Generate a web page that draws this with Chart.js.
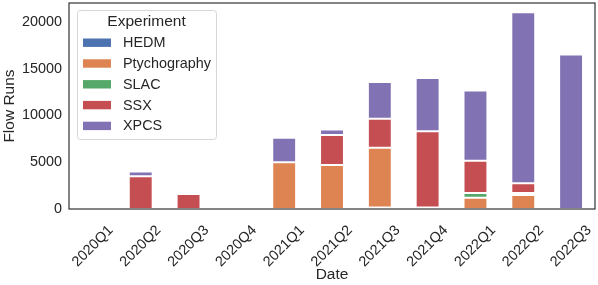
<!DOCTYPE html>
<html>
<head>
<meta charset="utf-8">
<script src="https://cdn.jsdelivr.net/npm/chart.js@4"></script>
<style>
  html, body { margin: 0; padding: 0; background: #fff; }
  #wrap { width: 598px; height: 285px; }
</style>
</head>
<body>
<div id="wrap"><canvas id="flow-chart" width="598" height="285"></canvas></div>
<script>
var quarters = ['2020Q1', '2020Q2', '2020Q3', '2020Q4', '2021Q1', '2021Q2', '2021Q3', '2021Q4', '2022Q1', '2022Q2', '2022Q3'];
var hedmRuns = [0, 0, 0, 0, 0, 0, 150, 150, 0, 0, 0];
var ptychoRuns = [0, 0, 0, 0, 5000, 4700, 6400, 0, 1200, 1500, 0];
var slacRuns = [0, 0, 0, 0, 0, 0, 0, 0, 500, 200, 0];
var ssxRuns = [0, 3500, 1600, 0, 0, 3200, 3100, 8150, 3450, 1050, 0];
var xpcsRuns = [0, 500, 200, 0, 2600, 600, 3900, 5700, 7500, 18250, 16500];
var yTicks = [0, 5000, 10000, 15000, 20000];

var textColor = '#262626';
var fontFamily = '"Liberation Sans", Arial, sans-serif';

function series(label, data, color) {
    return {
        label: label,
        data: data,
        backgroundColor: color,
        borderColor: 'rgba(255,255,255,0.7)',
        borderWidth: 1,
        borderSkipped: false,
        categoryPercentage: 1.0,
        barPercentage: 0.5
    };
}

// legend box inside the plot, top left, like matplotlib's
var insideLegend = {
    id: 'insideLegend',
    afterDraw: function (chart) {
        var ctx = chart.ctx;
        var x = 77, y = 10, w = 139, h = 129;
        ctx.save();
        ctx.fillStyle = 'rgba(255,255,255,0.85)';
        ctx.strokeStyle = '#d6d6d6';
        ctx.lineWidth = 1;
        ctx.beginPath();
        ctx.roundRect(x + 0.5, y + 0.5, w, h, 3);
        ctx.fill();
        ctx.stroke();

        ctx.fillStyle = textColor;
        ctx.font = '15.5px ' + fontFamily;
        ctx.textAlign = 'center';
        ctx.textBaseline = 'middle';
        ctx.fillText('Experiment', x + w / 2, 21.5);

        ctx.font = '14.4px ' + fontFamily;
        ctx.textAlign = 'left';
        chart.data.datasets.forEach(function (ds, i) {
            var cy = 42.7 + i * 20.8;
            ctx.fillStyle = ds.backgroundColor;
            ctx.fillRect(83, cy - 4.2, 28, 8.4);
            ctx.fillStyle = textColor;
            ctx.fillText(ds.label, 123, cy + 0.5);
        });
        ctx.restore();
    }
};

var frame = {
    id: 'frame',
    afterDraw: function (chart) {
        var a = chart.chartArea, ctx = chart.ctx;
        ctx.save();
        ctx.strokeStyle = '#3a3a3a';
        ctx.lineWidth = 1.25;
        ctx.strokeRect(a.left, a.top, a.right - a.left, a.bottom - a.top);
        ctx.restore();
    }
};

var ctx = document.getElementById('flow-chart').getContext('2d');
var flowChart = new Chart(ctx, {
    type: 'bar',
    data: {
        labels: quarters,
        datasets: [
            series('HEDM', hedmRuns, '#4c72b0'),
            series('Ptychography', ptychoRuns, '#dd8452'),
            series('SLAC', slacRuns, '#55a868'),
            series('SSX', ssxRuns, '#c44e52'),
            series('XPCS', xpcsRuns, '#8172b3')
        ]
    },
    options: {
        responsive: false,
        animation: false,
        layout: {padding: {top: 3, right: 3, left: 0, bottom: 0}},
        plugins: {legend: {display: false}, tooltip: {enabled: false}},
        scales: {
            x: {
                stacked: true,
                grid: {display: false, drawTicks: false},
                border: {display: false},
                ticks: {
                    color: textColor,
                    font: {family: fontFamily, size: 14.4},
                    maxRotation: 45,
                    minRotation: 45,
                    autoSkip: false,
                    labelOffset: 18,
                    padding: 13
                },
                title: {
                    display: true,
                    text: 'Date',
                    color: textColor,
                    font: {family: fontFamily, size: 15.5},
                    padding: {top: 0, bottom: 1}
                },
                afterFit: function (scale) {
                    scale.height = 76;
                    scale.paddingLeft = 0;
                    scale.paddingRight = 0;
                }
            },
            y: {
                stacked: true,
                min: 0,
                max: 22000,
                grid: {display: false, drawTicks: false},
                border: {display: false},
                ticks: {
                    color: textColor,
                    font: {family: fontFamily, size: 14.4},
                    padding: 7,
                    callback: function (v) { return String(v); }
                },
                afterBuildTicks: function (scale) {
                    scale.ticks = yTicks.map(function (v) { return {value: v}; });
                },
                title: {
                    display: true,
                    text: 'Flow Runs',
                    color: textColor,
                    font: {family: fontFamily, size: 15.5},
                    padding: {top: 0, bottom: 0}
                },
                afterFit: function (scale) {
                    scale.width = 69;
                    scale.paddingTop = 0;
                    scale.paddingBottom = 0;
                }
            }
        }
    },
    plugins: [insideLegend, frame]
});
</script>
</body>
</html>
